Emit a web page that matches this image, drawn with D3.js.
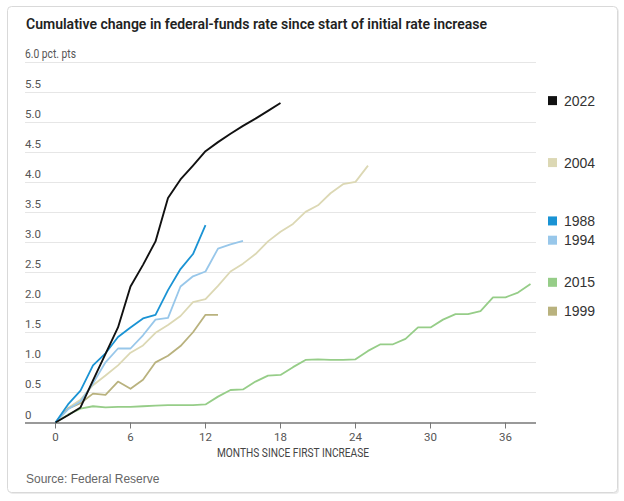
<!DOCTYPE html>
<html>
<head>
<meta charset="utf-8">
<script src="https://cdn.jsdelivr.net/npm/d3@7"></script>
<style>
  body { margin: 0; background: #fff; }
  svg { display: block; }
</style>
</head>
<body>
<svg id="chart" width="624" height="501"></svg>
<script>
// cumulative change, pct. pts, one value per month since first increase
const months2022 = [0, 0.12, 0.25, 0.7, 1.14, 1.58, 2.26, 2.62, 3.01, 3.73, 4.04, 4.27, 4.51, 4.66, 4.8, 4.93, 5.05, 5.18, 5.31];
const months2004 = [0, 0.24, 0.38, 0.62, 0.78, 0.95, 1.16, 1.28, 1.49, 1.62, 1.77, 2.0, 2.05, 2.27, 2.51, 2.64, 2.8, 3.01, 3.17, 3.3, 3.5, 3.61, 3.81, 3.96, 4.0, 4.27];
const months1988 = [0, 0.3, 0.53, 0.95, 1.15, 1.42, 1.58, 1.73, 1.79, 2.2, 2.55, 2.8, 3.28];
const months1994 = [0, 0.22, 0.35, 0.65, 1.0, 1.23, 1.23, 1.45, 1.71, 1.74, 2.26, 2.43, 2.51, 2.89, 2.96, 3.02];
const months2015 = [0, 0.13, 0.23, 0.27, 0.25, 0.26, 0.26, 0.27, 0.28, 0.29, 0.29, 0.29, 0.3, 0.43, 0.54, 0.55, 0.68, 0.78, 0.79, 0.92, 1.04, 1.05, 1.04, 1.04, 1.05, 1.19, 1.3, 1.3, 1.39, 1.58, 1.58, 1.71, 1.8, 1.8, 1.85, 2.08, 2.08, 2.16, 2.3];
const months1999 = [0, 0.23, 0.32, 0.48, 0.46, 0.68, 0.56, 0.71, 1.0, 1.11, 1.27, 1.5, 1.79, 1.79];

const seriesNames = ["2022", "2004", "1988", "1994", "2015", "1999"];
const seriesValues = [months2022, months2004, months1988, months1994, months2015, months1999];
const seriesColors = ["#111111", "#dcd8b4", "#1a93d4", "#98c7ea", "#96cd88", "#b9b27e"];
// vertical spot of each legend entry, in pct. pts
const legendAt = [5.35, 4.32, 3.35, 3.03, 2.33, 1.85];

const xTicks = [0, 6, 12, 18, 24, 30, 36];
const yTicks = d3.range(0, 6.01, 0.5);

const svg = d3.select("#chart");
const narrow = "'Liberation Sans Narrow', 'Roboto', sans-serif";

// card
svg.append("rect")
    .attr("x", 9).attr("y", 8)
    .attr("width", 610).attr("height", 486)
    .attr("rx", 4)
    .attr("fill", "#ececec");
svg.append("rect")
    .attr("x", 7.5).attr("y", 6.5)
    .attr("width", 610).attr("height", 486)
    .attr("rx", 4)
    .attr("fill", "#fff")
    .attr("stroke", "#d9d9d9");

svg.append("text")
    .attr("x", 26).attr("y", 29)
    .attr("fill", "#222")
    .style("font-family", narrow)
    .style("font-size", "15.5px")
    .style("font-weight", 600)
    .attr("textLength", 461)
    .attr("lengthAdjust", "spacingAndGlyphs")
    .text("Cumulative change in federal-funds rate since start of initial rate increase");

let x = d3.scaleLinear().domain([0, 36]).range([55.5, 505.5]);
let y = d3.scaleLinear().domain([0, 6]).range([422.5, 61.5]);

const gridLeft = 25, gridRight = 536;

// horizontal grid + y labels
let yAxis = svg.append("g");
yAxis.selectAll("line")
    .data(yTicks.filter(d => d > 0))
    .enter().append("line")
    .attr("x1", gridLeft).attr("x2", gridRight)
    .attr("y1", d => Math.round(y(d)) + 0.5)
    .attr("y2", d => Math.round(y(d)) + 0.5)
    .attr("stroke", "#e6e6e6");

yAxis.selectAll("text")
    .data(yTicks)
    .enter().append("text")
    .attr("x", gridLeft)
    .attr("y", d => y(d) - 4)
    .attr("fill", "#555")
    .style("font-family", narrow)
    .style("font-size", "11.5px")
    .text(d => d === 0 ? "0" : d === 6 ? "6.0 pct. pts" : d.toFixed(1))
    .filter(d => d === 6)
    .style("font-size", "12.5px")
    .attr("textLength", 51)
    .attr("lengthAdjust", "spacingAndGlyphs");

// x axis
let xAxis = svg.append("g");
xAxis.append("line")
    .attr("x1", gridLeft).attr("x2", gridRight)
    .attr("y1", y(0) + 0.5).attr("y2", y(0) + 0.5)
    .attr("stroke", "#777").attr("stroke-width", 1.3);
xAxis.selectAll(".tick")
    .data(xTicks)
    .enter().append("line")
    .attr("x1", d => x(d)).attr("x2", d => x(d))
    .attr("y1", y(0)).attr("y2", y(0) + 6)
    .attr("stroke", "#777");
xAxis.selectAll("text")
    .data(xTicks)
    .enter().append("text")
    .attr("x", d => x(d))
    .attr("y", y(0) + 18)
    .attr("text-anchor", "middle")
    .attr("fill", "#555")
    .style("font-family", narrow)
    .style("font-size", "11.5px")
    .text(d => d);
svg.append("text")
    .attr("x", x(19))
    .attr("y", y(0) + 34)
    .attr("text-anchor", "middle")
    .attr("fill", "#444")
    .style("font-family", narrow)
    .style("font-size", "12.5px")
    .attr("textLength", 152)
    .attr("lengthAdjust", "spacingAndGlyphs")
    .text("MONTHS SINCE FIRST INCREASE");

// lines, drawn back to front so 2022 sits on top
let line = d3.line()
    .x((d, i) => x(i))
    .y(d => y(d));

let order = [4, 1, 5, 3, 2, 0];
svg.append("g")
    .selectAll("path")
    .data(order)
    .enter().append("path")
    .attr("d", k => line(seriesValues[k]))
    .attr("fill", "none")
    .attr("stroke", k => seriesColors[k])
    .attr("stroke-width", k => k === 0 ? 1.9 : 1.8)
    .attr("stroke-linejoin", "round");

// legend
let legend = svg.append("g")
    .selectAll("g")
    .data(seriesNames)
    .enter().append("g")
    .attr("transform", (d, i) => `translate(548,${y(legendAt[i])})`);
legend.append("rect")
    .attr("x", 0).attr("y", -4.5)
    .attr("width", 9).attr("height", 9)
    .attr("fill", (d, i) => seriesColors[i]);
legend.append("text")
    .attr("x", 16).attr("y", 5)
    .attr("fill", "#333")
    .style("font-family", "'Liberation Sans', sans-serif")
    .style("font-size", "14px")
    .text(d => d);

svg.append("text")
    .attr("x", 26).attr("y", 483)
    .attr("fill", "#666")
    .style("font-family", "'Liberation Sans', sans-serif")
    .style("font-size", "12px")
    .text("Source: Federal Reserve");
</script>
</body>
</html>
